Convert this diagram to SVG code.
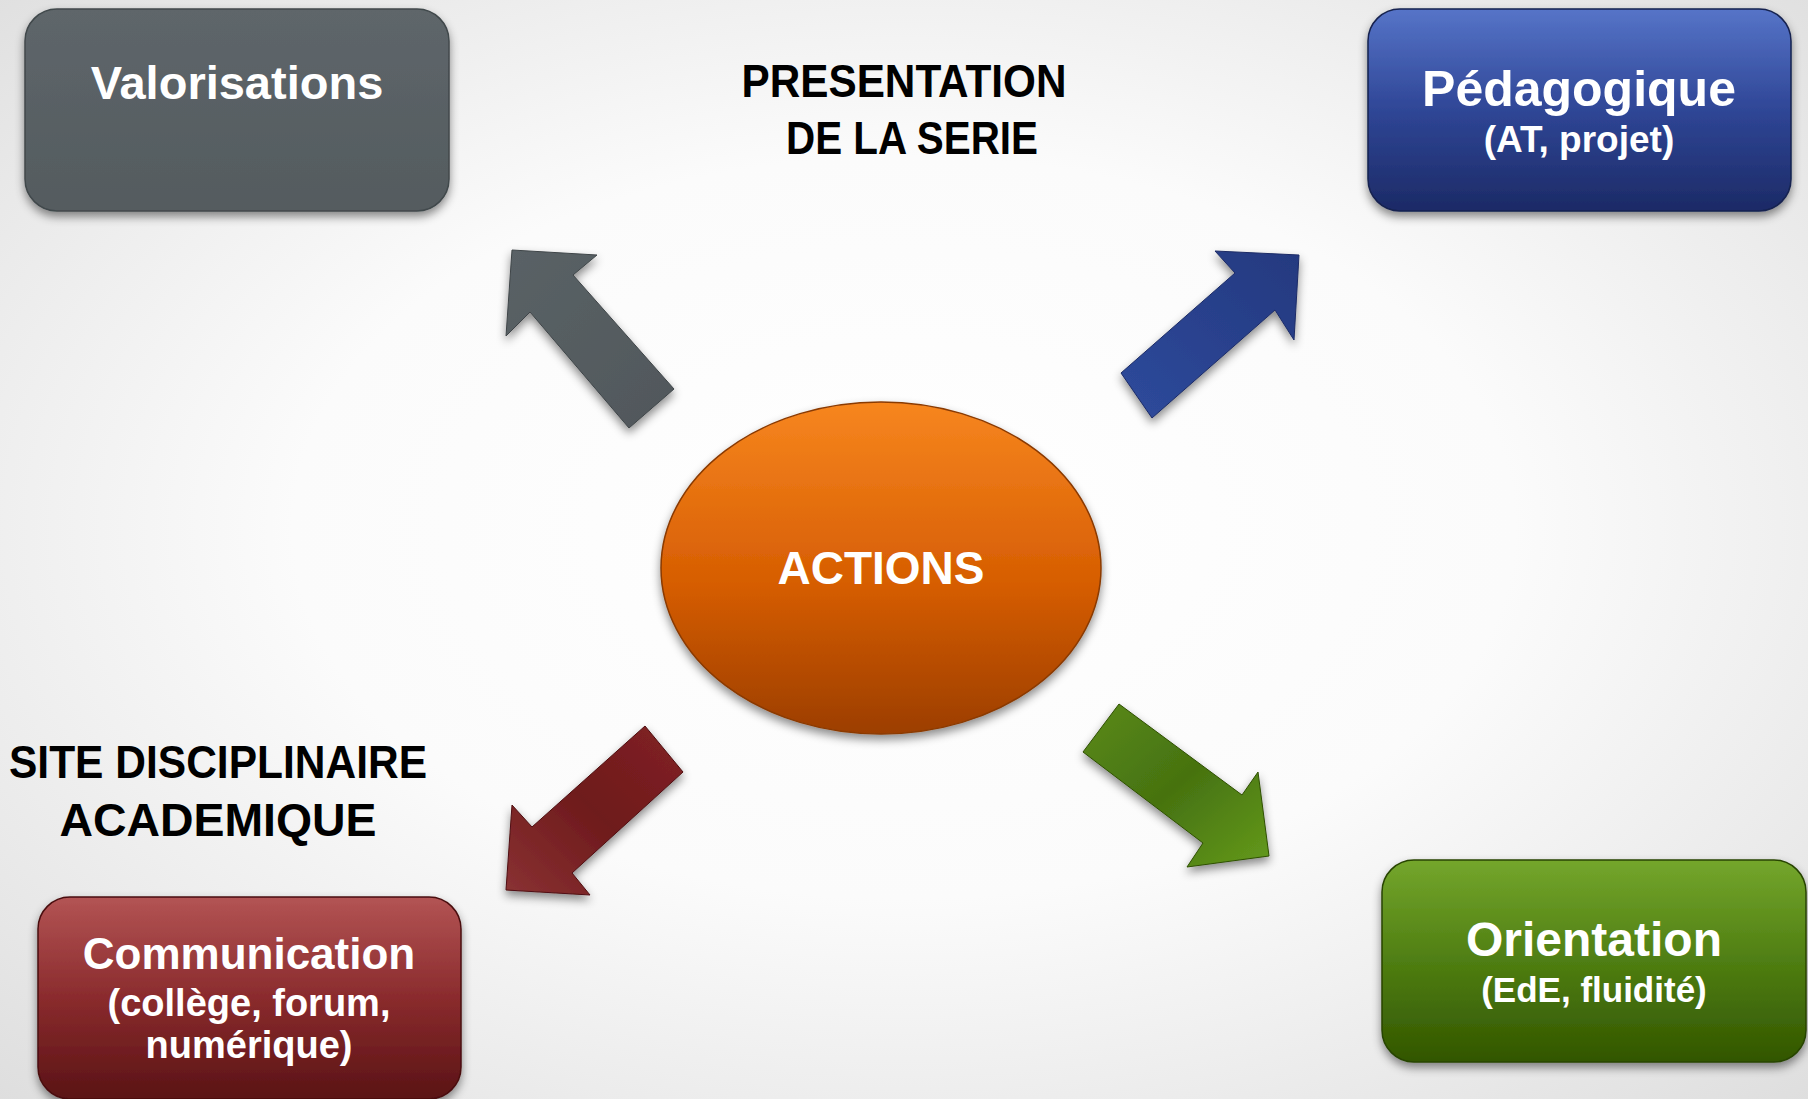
<svg xmlns="http://www.w3.org/2000/svg" width="1808" height="1099" viewBox="0 0 1808 1099">
<defs>
  <radialGradient id="bg" cx="50%" cy="48%" r="75%">
    <stop offset="0" stop-color="#ffffff"/>
    <stop offset="0.45" stop-color="#fbfbfb"/>
    <stop offset="1" stop-color="#dcdcdc"/>
  </radialGradient>
  <linearGradient id="gGray" x1="0" y1="0" x2="0" y2="1">
    <stop offset="0" stop-color="#5e666a"/>
    <stop offset="1" stop-color="#545b5f"/>
  </linearGradient>
  <linearGradient id="gBlue" x1="0" y1="0" x2="0" y2="1">
    <stop offset="0" stop-color="#5674c8"/>
    <stop offset="0.5" stop-color="#2f4696"/>
    <stop offset="1" stop-color="#1c2a66"/>
  </linearGradient>
  <linearGradient id="gRed" x1="0" y1="0" x2="0" y2="1">
    <stop offset="0" stop-color="#b35454"/>
    <stop offset="0.5" stop-color="#8a2b2d"/>
    <stop offset="1" stop-color="#5a1315"/>
  </linearGradient>
  <linearGradient id="gGreen" x1="0" y1="0" x2="0" y2="1">
    <stop offset="0" stop-color="#74a62c"/>
    <stop offset="0.5" stop-color="#4f7e12"/>
    <stop offset="1" stop-color="#325600"/>
  </linearGradient>
  <linearGradient id="gOrange" x1="0" y1="0" x2="0" y2="1">
    <stop offset="0" stop-color="#f7861f"/>
    <stop offset="0.55" stop-color="#d65d02"/>
    <stop offset="1" stop-color="#9c3e00"/>
  </linearGradient>
  <linearGradient id="aGray" x1="0" y1="0" x2="1" y2="1">
    <stop offset="0" stop-color="#5a6266"/>
    <stop offset="1" stop-color="#50575b"/>
  </linearGradient>
  <linearGradient id="aBlue" x1="0" y1="1" x2="1" y2="0">
    <stop offset="0" stop-color="#2e4a9c"/>
    <stop offset="1" stop-color="#24397f"/>
  </linearGradient>
  <linearGradient id="aRed" x1="1" y1="0" x2="0" y2="1">
    <stop offset="0" stop-color="#822224"/>
    <stop offset="0.5" stop-color="#6e1a1c"/>
    <stop offset="1" stop-color="#8a3233"/>
  </linearGradient>
  <linearGradient id="aGreen" x1="0" y1="0" x2="1" y2="1">
    <stop offset="0" stop-color="#5a8a18"/>
    <stop offset="0.5" stop-color="#467210"/>
    <stop offset="1" stop-color="#649a1c"/>
  </linearGradient>
  <filter id="shadow" x="-10%" y="-10%" width="120%" height="130%">
    <feDropShadow dx="0" dy="5" stdDeviation="5" flood-color="#000000" flood-opacity="0.45"/>
  </filter>
</defs>
<style>
  .box { stroke-width: 1.5; filter: url(#shadow); }
  .lbl { font-family: "Liberation Sans", Arial, sans-serif; font-weight: bold; fill: #ffffff; text-anchor: middle; }
  .title { font-family: "Liberation Sans", Arial, sans-serif; font-weight: bold; fill: #000000; text-anchor: middle; }
  .arrow { filter: url(#shadow); stroke-width: 1; stroke-linejoin: miter; }
</style>

<rect x="0" y="0" width="1808" height="1099" fill="url(#bg)"/>

<g id="connectors">
  <polygon class="arrow" fill="url(#aGray)" stroke="#3f4548" points="512,250 597,255 573,275 674,389 629,428 530,312 506,336"/>
  <polygon class="arrow" fill="url(#aBlue)" stroke="#1c2c66" points="1299,255 1215,251 1235,273 1121,373 1152,418 1275,310 1294,340"/>
  <polygon class="arrow" fill="url(#aRed)" stroke="#4f1012" points="506,890 512,805 532,827 645,726 683,772 572,873 590,895"/>
  <polygon class="arrow" fill="url(#aGreen)" stroke="#2e4f02" points="1119,704 1083,752 1203,843 1187,867 1269,856 1258,772 1242,795"/>
</g>

<g id="title-presentation">
  <text class="title" x="904" y="97" font-size="46" textLength="325" lengthAdjust="spacingAndGlyphs">PRESENTATION</text>
  <text class="title" x="912" y="154" font-size="46" textLength="252" lengthAdjust="spacingAndGlyphs">DE LA SERIE</text>
</g>

<g id="title-site">
  <text class="title" x="218" y="778" font-size="46" textLength="418" lengthAdjust="spacingAndGlyphs">SITE DISCIPLINAIRE</text>
  <text class="title" x="218" y="836" font-size="46" textLength="317" lengthAdjust="spacingAndGlyphs">ACADEMIQUE</text>
</g>

<g id="node-valorisations">
  <rect class="box" x="25" y="9" width="424" height="202" rx="32" fill="url(#gGray)" stroke="#41484b"/>
  <text class="lbl" x="237" y="99" font-size="47">Valorisations</text>
</g>

<g id="node-pedagogique">
  <rect class="box" x="1368" y="9" width="423" height="202" rx="32" fill="url(#gBlue)" stroke="#16224f"/>
  <text class="lbl" x="1579" y="106" font-size="50">Pédagogique</text>
  <text class="lbl" x="1579" y="152" font-size="37">(AT, projet)</text>
</g>

<g id="node-communication">
  <rect class="box" x="38" y="897" width="423" height="202" rx="32" fill="url(#gRed)" stroke="#4a0e10"/>
  <text class="lbl" x="249" y="969" font-size="44">Communication</text>
  <text class="lbl" x="249" y="1016" font-size="38">(collège, forum,</text>
  <text class="lbl" x="249" y="1058" font-size="38">numérique)</text>
</g>

<g id="node-orientation">
  <rect class="box" x="1382" y="860" width="424" height="202" rx="32" fill="url(#gGreen)" stroke="#284400"/>
  <text class="lbl" x="1594" y="956" font-size="48">Orientation</text>
  <text class="lbl" x="1594" y="1002" font-size="35">(EdE, fluidité)</text>
</g>

<g id="node-actions">
  <ellipse class="box" cx="881" cy="568" rx="220" ry="166" fill="url(#gOrange)" stroke="#8a3a05"/>
  <text class="lbl" x="881" y="584" font-size="46">ACTIONS</text>
</g>
</svg>
